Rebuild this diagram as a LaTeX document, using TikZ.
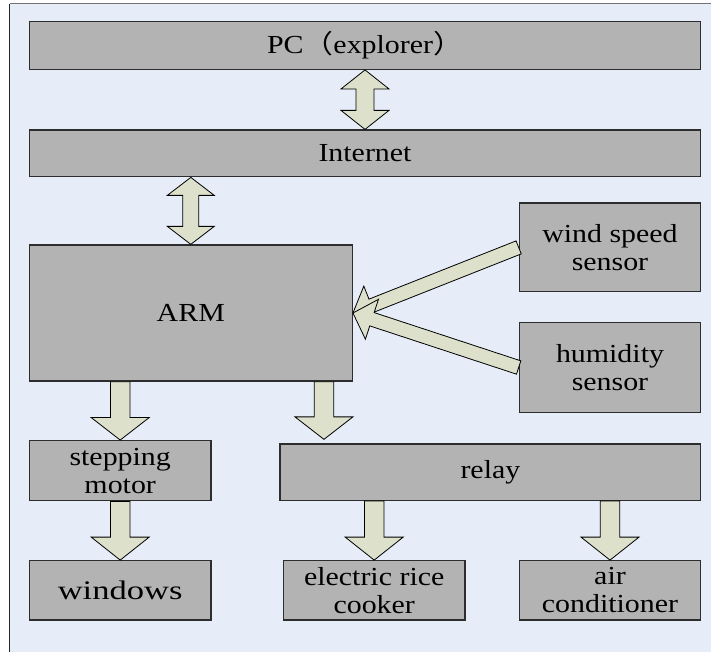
\documentclass[tikz,border=0pt]{standalone}
\usepackage{fontspec}
\setmainfont{Liberation Serif}
\newfontfamily\cjk{Noto Sans CJK SC}
\usetikzlibrary{calc}

\definecolor{pagebg}{RGB}{230,237,248}
\definecolor{boxfill}{RGB}{179,179,179}
\definecolor{boxline}{RGB}{45,45,45}
\definecolor{arrowfill}{RGB}{221,225,203}

% wide-set label text
\newcommand{\wide}[1]{\scalebox{1.15}[1]{#1}}

\tikzset{
  block/.style={draw=boxline, line width=1.3pt, fill=boxfill, inner sep=0pt,
    align=center, font=\fontsize{26}{28}\selectfont},
  fat/.style={draw=black, line width=0.8pt, fill=arrowfill, line join=miter}
}

% single block arrow from #1 to #2: shaft half-width #3, head half-width #4, head length #5
\newcommand{\blockarrow}[5]{%
  \coordinate (ba-h) at ($(#2)!#5!(#1)$);
  \draw[fat] ($(#1)!#3!90:(#2)$) -- ($(ba-h)!#3!90:(#2)$) -- ($(ba-h)!#4!90:(#2)$)
    -- (#2) -- ($(ba-h)!#4!-90:(#2)$) -- ($(ba-h)!#3!-90:(#2)$)
    -- ($(#1)!#3!-90:(#2)$) -- cycle;}

% double-headed block arrow between #1 and #2
\newcommand{\blockdarrow}[5]{%
  \coordinate (bd-a) at ($(#1)!#5!(#2)$);
  \coordinate (bd-b) at ($(#2)!#5!(#1)$);
  \draw[fat] (#1) -- ($(bd-a)!#4!90:(#2)$) -- ($(bd-a)!#3!90:(#2)$)
    -- ($(bd-b)!#3!90:(#2)$) -- ($(bd-b)!#4!90:(#2)$) -- (#2)
    -- ($(bd-b)!#4!-90:(#2)$) -- ($(bd-b)!#3!-90:(#2)$)
    -- ($(bd-a)!#3!-90:(#2)$) -- ($(bd-a)!#4!-90:(#2)$) -- cycle;}

\begin{document}
\begin{tikzpicture}[x=1pt, y=-1pt]
  \useasboundingbox (0,0) rectangle (711,652);
  % panel
  \fill[pagebg] (9.5,4) rectangle (712,653);
  \draw[black!55, line width=1pt] (9.5,4) -- (712,4);
  \draw[black!85, line width=1pt] (9.5,4) -- (9.5,653);

  % blocks
  \node[block, minimum width=671.4pt, minimum height=47.6pt] (pc) at (365,45.5)
    {\wide{PC{\cjk （}explorer{\cjk ）}}};
  \node[block, minimum width=671.4pt, minimum height=46.7pt] (inet) at (365,153.4) {\wide{Internet}};
  \node[block, minimum width=323pt, minimum height=136pt] (arm) at (190.8,313) {\wide{ARM}};
  \node[block, minimum width=181.4pt, minimum height=88.7pt] (wind) at (610,247.4) {\wide{wind speed}\\\wide{sensor}};
  \node[block, minimum width=181.4pt, minimum height=89.6pt] (hum) at (610,367.5) {\wide{humidity}\\\wide{sensor}};
  \node[block, minimum width=181.7pt, minimum height=60pt] (stepm) at (120.2,470.7) {\wide{stepping}\\\wide{motor}};
  \node[block, minimum width=420.7pt, minimum height=56.4pt] (relay) at (490.4,472.2) {\wide{relay}};
  \node[block, minimum width=181.7pt, minimum height=59.3pt] (win) at (120.2,590.4) {\scalebox{1.33}[1.03]{windows}};
  \node[block, minimum width=181.7pt, minimum height=59.3pt] (cook) at (374.2,590.4) {\wide{electric rice}\\\wide{cooker}};
  \node[block, minimum width=181.4pt, minimum height=59.3pt] (air) at (610,590.4) {\wide{air}\\\wide{conditioner}};

  % connection points
  \coordinate (inetA) at (inet.south -| arm.north);
  \coordinate (armS) at (arm.south -| stepm.north);
  \coordinate (armR) at ([xshift=-29pt]arm.south east);
  \coordinate (relIn) at ([yshift=4pt]armR |- relay.north);
  \coordinate (relC) at (relay.south -| cook.north);
  \coordinate (relA) at (relay.south -| air.north);

  % block arrows
  \blockdarrow{pc.south}{inet.north}{9pt}{24pt}{19pt}
  \blockdarrow{inetA}{arm.north}{8pt}{23.5pt}{18pt}
  \blockarrow{wind.west}{arm.east}{7pt}{21pt}{20pt}
  \blockarrow{hum.west}{arm.east}{7pt}{21pt}{20pt}
  \blockarrow{armS}{stepm.north}{9.7pt}{29pt}{22.5pt}
  \blockarrow{armR}{relIn}{9.7pt}{29pt}{22.5pt}
  \blockarrow{stepm.south}{win.north}{9.7pt}{29pt}{23pt}
  \blockarrow{relC}{cook.north}{9.7pt}{29pt}{23pt}
  \blockarrow{relA}{air.north}{9.7pt}{29pt}{23pt}
\end{tikzpicture}
\end{document}
